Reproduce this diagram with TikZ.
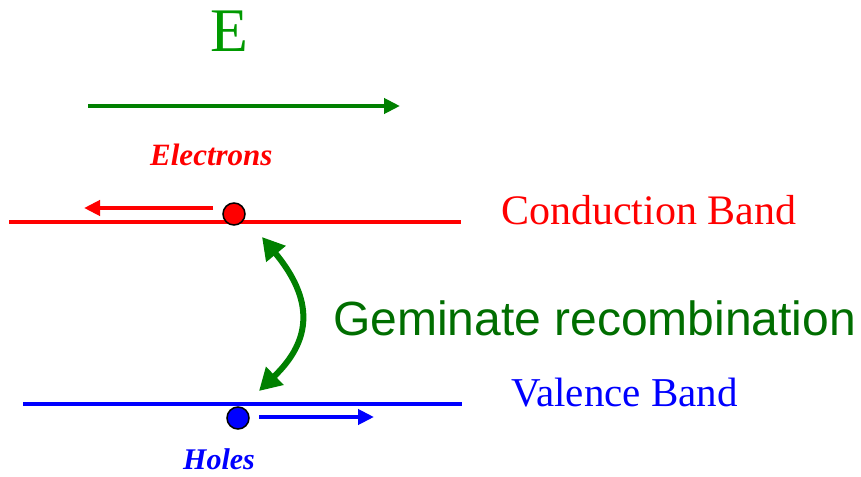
\documentclass[tikz,border=0pt]{standalone}
\usepackage{fontspec}
\setmainfont{Liberation Serif}
\newfontfamily\arialfont{Liberation Sans}
\usetikzlibrary{arrows.meta}
\definecolor{egreen}{RGB}{0,153,0}
\definecolor{dgreen}{RGB}{0,128,0}
\definecolor{dtext}{RGB}{0,110,0}
\definecolor{bred}{RGB}{255,0,0}
\definecolor{bblue}{RGB}{0,0,255}
\tikzset{
  band/.style={line width=4pt},
  flow/.style={line width=4pt,-{Triangle[length=16pt,width=15pt]}},
  carrier/.style={circle,draw=black,line width=1.5pt,minimum size=22pt,inner sep=0pt},
  lbl/.style={anchor=base west,inner sep=0pt},
}
\begin{document}
\begin{tikzpicture}[x=1pt,y=-1pt]
\useasboundingbox (0,0) rectangle (861,476);
% field
\node[lbl,text=egreen,font=\fontsize{62}{62}\selectfont] (E) at (210,52) {E};
\coordinate (f1) at (88,106);
\coordinate (f2) at (400,106);
\draw[flow,dgreen,line width=4.5pt] (f1) -- (f2);
% conduction band
\coordinate (c1) at (9,222);
\coordinate (c2) at (461,222);
\draw[band,bred] (c1) -- (c2);
\node[carrier,fill=bred] (el) at (234,214) {};
\coordinate (ea) at (213,208);
\coordinate (eb) at (84,208);
\draw[flow,bred] (ea) -- (eb);
\node[lbl,text=bred,font=\fontsize{31}{31}\selectfont\bfseries\itshape] (elab) at (150,165) {Electrons};
\node[lbl,text=bred,font=\fontsize{42}{42}\selectfont] (cb) at (501,224) {Conduction Band};
% valence band
\coordinate (v1) at (23,404);
\coordinate (v2) at (462,404);
\draw[band,bblue] (v1) -- (v2);
\node[carrier,fill=bblue] (ho) at (238,418) {};
\coordinate (ha) at (259,417);
\coordinate (hb) at (374,417);
\draw[flow,bblue] (ha) -- (hb);
\node[lbl,text=bblue,font=\fontsize{30}{30}\selectfont\bfseries\itshape] (hlab) at (183,469) {Holes};
\node[lbl,text=bblue,font=\fontsize{41}{41}\selectfont] (vb) at (511,406) {Valence Band};
% recombination
\coordinate (r1) at (262,237);
\coordinate (r2) at (259,391);
\draw[dgreen,line width=6pt,{Triangle[length=22pt,width=24pt]}-{Triangle[length=22pt,width=24pt]}]
  (r1) .. controls (314,300) and (312,340) .. (r2);
\node[lbl,text=dtext,font=\arialfont\fontsize{48}{48}\selectfont] (gr) at (333,335) {Geminate recombination};
\end{tikzpicture}
\end{document}
